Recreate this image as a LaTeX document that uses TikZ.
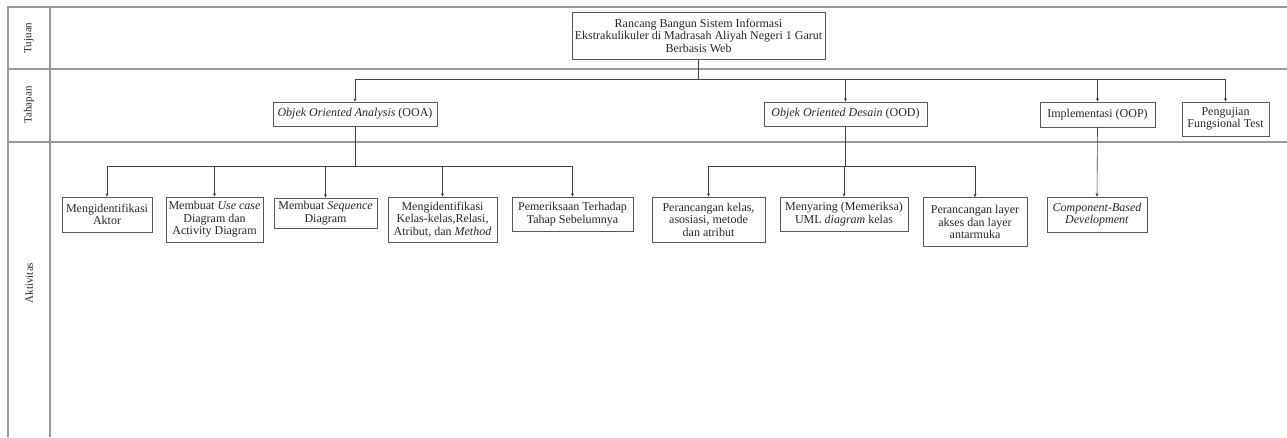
\documentclass[tikz,border=0pt]{standalone}
\usepackage{fontspec}
\setmainfont{Liberation Serif}
\usetikzlibrary{arrows.meta}
\begin{document}
\begin{tikzpicture}[x=1pt,y=-1pt,
  frame/.style={draw=black!40,line width=1.3pt},
  lane/.style={rotate=90,font=\fontsize{11}{12}\selectfont,text=black!85},
  box/.style={draw=black!65,line width=0.6pt,align=center,inner sep=0.5pt,
    font=\fontsize{12}{12.5}\selectfont,text=black!85},
  conn/.style={draw=black!75,line width=0.6pt},
  arr/.style={conn,-{Stealth[length=3.5pt,width=3pt]}}]
\useasboundingbox (0,0) rectangle (1287,437);
% frame
\draw[frame] (1287,7) -- (8,7) -- (8,437);
\draw[frame] (50,7) -- (50,437);
\draw[frame] (8,69) -- (1287,69);
\draw[frame] (8,142) -- (1287,142);
\node[lane] (ltuj) at (29,38) {Tujuan};
\node[lane] (ltah) at (29,105) {Tahapan};
\node[lane] (lakt) at (29,283) {Aktivitas};
% goal
\node[box,minimum width=253,minimum height=47] (goal) at (698.5,35.5)
  {Rancang Bangun Sistem Informasi\\Ekstrakulikuler di Madrasah Aliyah Negeri 1 Garut\\Berbasis Web};
% stages
\node[box,minimum width=164,minimum height=24] (ooa) at (355,114)
  {\textit{Objek Oriented Analysis} (OOA)};
\node[box,minimum width=163,minimum height=24] (ood) at (845.5,114)
  {\textit{Objek Oriented Desain} (OOD)};
\node[box,minimum width=115,minimum height=25] (oop) at (1097.5,114.5)
  {Implementasi (OOP)};
\node[box,minimum width=87,minimum height=34] (peng) at (1225.5,119)
  {Pengujian\\Fungsional Test};
% activities
\node[box,minimum width=90,minimum height=35] (a1) at (107,214.5)
  {Mengidentifikasi\\Aktor};
\node[box,minimum width=97,minimum height=45] (a2) at (214.5,219.5)
  {Membuat \textit{Use case}\\Diagram dan\\Activity Diagram};
\node[box,minimum width=103,minimum height=30] (a3) at (325.5,213)
  {Membuat \textit{Sequence}\\Diagram};
\node[box,minimum width=109,minimum height=45] (a4) at (442.5,219.5)
  {Mengidentifikasi\\Kelas-kelas,Relasi,\\Atribut, dan \textit{Method}};
\node[box,minimum width=121,minimum height=34] (a5) at (572.5,214)
  {Pemeriksaan Terhadap\\Tahap Sebelumnya};
\node[box,minimum width=113,minimum height=45] (a6) at (708.5,219.5)
  {Perancangan kelas,\\asosiasi, metode\\dan atribut};
\node[box,minimum width=128,minimum height=34] (a7) at (844,214)
  {Menyaring (Memeriksa)\\UML \textit{diagram} kelas};
\node[box,minimum width=104,minimum height=49] (a8) at (975,222)
  {Perancangan layer\\akses dan layer\\antarmuka};
\node[box,minimum width=100,minimum height=35] (a9) at (1097,214.5)
  {\textit{Component-Based}\\\textit{Development}};
% buses
\coordinate (busT) at (0,79);
\coordinate (busA) at (0,166);
\draw[conn] (goal.south) -- (goal.south |- busT);
\draw[conn] (ooa.north |- busT) -- (peng.north |- busT);
\foreach \n in {ooa,ood,oop,peng} \draw[arr] (\n.north |- busT) -- (\n.north);
\draw[conn] (ooa.south) -- (ooa.south |- busA);
\draw[conn] (a1.north |- busA) -- (a5.north |- busA);
\foreach \n in {a1,a2,a3,a4,a5} \draw[arr] (\n.north |- busA) -- (\n.north);
\draw[conn] (ood.south) -- (ood.south |- busA);
\draw[conn] (a6.north |- busA) -- (a8.north |- busA);
\foreach \n in {a6,a7,a8} \draw[arr] (\n.north |- busA) -- (\n.north);
\draw[arr] (oop.south) -- (a9.north);
\end{tikzpicture}
\end{document}
